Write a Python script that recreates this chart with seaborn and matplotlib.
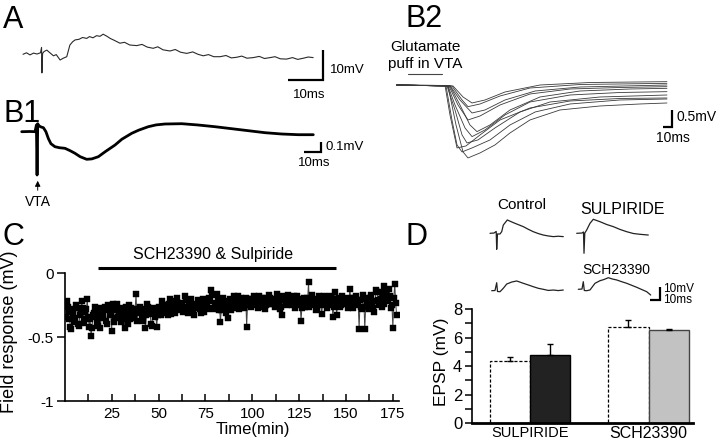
import numpy as np
import pandas as pd
import matplotlib
matplotlib.use("Agg")
import matplotlib.pyplot as plt
from matplotlib.container import BarContainer
import seaborn as sns

# ---------------- data ----------------
# A: single EPSP trace (ms, mV)
A_t = [0, 1, 2, 3, 4, 5, 5.3, 5.4, 5.6, 6, 6.8, 7.5, 8.7, 9.5, 10.6, 11.5, 12.5, 13.4, 14.2, 14.9,
       16, 17, 18.2, 19, 20, 21, 22, 22.9, 24, 24.9, 26, 27.7, 29, 30.5, 32.5, 34, 35.5, 37.2, 38.5, 40,
       42, 43.5, 45, 46.8, 48.5, 50, 51.5, 53, 54.5, 56.3, 58, 59.5, 61, 62.5, 64, 65.8, 67.5, 69, 70.6,
       72, 73.5, 75.3, 77, 78.5, 80.1, 81.5, 82.9]
A_v = [-0.1, 0.4, -0.3, 0.3, 0, 0.4, 2.2, -6.3, 0.2, 0.8, 1.3, 0.6, -0.6, -0.2, -2.0, -1.4, -0.9, 3.0, 4.1, 4.7,
       4.9, 5.5, 5.2, 5.8, 5.4, 6.1, 5.9, 6.6, 5.9, 5.2, 4.6, 3.6, 3.9, 3.0, 2.8, 3.2, 2.3, 1.9, 2.4, 1.4,
       1.0, 1.5, 0.6, 0.2, 0.7, -0.1, -0.6, -0.2, -0.9, -0.9, -0.5, -1.3, -1.1, -0.7, -1.4, -1.2, -0.8, -1.5, -1.2,
       -0.9, -1.6, -1.7, -1.2, -1.8, -1.4, -1.0, -1.2]

# B1: field response to VTA stimulation (ms, mV)
B1_t = [0, 5, 8, 8.8, 9.2, 9.6, 10.2, 11.6, 13, 14.5, 16, 17.5, 19.9, 22.5, 25.9, 29, 31.9, 35, 38.9, 42,
        45.9, 50, 55.9, 60, 65.9, 70, 75.8, 80.5, 85.8, 95.8, 105.7, 115.7, 125.7, 135.7, 145.7, 155.7, 165.6, 174.6]
B1_v = [0, 0.002, 0, 0.067, -0.433, 0.08, 0.06, 0.047, 0.04, 0.0, -0.07, -0.12, -0.15, -0.16, -0.166, -0.19,
        -0.216, -0.25, -0.276, -0.272, -0.25, -0.2, -0.133, -0.075, -0.016, 0.015, 0.05, 0.068, 0.077, 0.08,
        0.067, 0.05, 0.03, 0.01, -0.01, -0.023, -0.03, -0.03]

# B2: responses to glutamate puffs (ms, mV), one list per sweep
B2_t = [
    [0, 57, 65.9, 73.7, 79.2, 92.6, 109.2, 125.9, 148.1, 181.4, 225.9, 270.3, 300.3],
    [0, 54.8, 61.4, 67, 72.6, 83.7, 103.7, 125.9, 153.9, 192.6, 248.1, 300.3],
    [0, 53.7, 59.2, 67, 77, 92.6, 114.8, 148.1, 192.6, 248.1, 300.3],
    [0, 55.9, 64.8, 72.6, 78.1, 90.3, 109.2, 137, 170.3, 225.9, 300.3],
    [0, 57, 64.8, 75.9, 83.7, 98.1, 120.3, 148.1, 192.6, 248.1, 300.3],
    [0, 59.2, 70.3, 81.4, 89.2, 103.7, 125.9, 159.2, 203.7, 259.2, 300.3],
    [0, 58.1, 68.1, 79.2, 92.6, 114.8, 148.1, 192.6, 248.1, 300.3],
    [0, 59.2, 70.3, 83.7, 98.1, 120.3, 153.9, 203.7, 300.3],
    [0, 61.4, 72.6, 79.2, 92.6, 114.8, 148.1, 203.7, 300.3],
    [0, 62.6, 73.7, 83.7, 98.1, 120.3, 159.2, 214.8, 300.3],
]
B2_v = [
    [0, -0.03, -1.2, -2.01, -2.19, -2.04, -1.8, -1.44, -1.05, -0.75, -0.63, -0.57, -0.54],
    [0, -0.03, -1.05, -1.8, -2.01, -1.89, -1.65, -1.2, -0.81, -0.57, -0.45, -0.42],
    [0, -0.015, -0.9, -1.89, -1.83, -1.5, -1.05, -0.69, -0.48, -0.405, -0.39],
    [0, -0.03, -0.75, -1.5, -1.74, -1.65, -1.29, -0.81, -0.51, -0.36, -0.3],
    [0, -0.03, -0.6, -1.29, -1.55, -1.35, -0.9, -0.51, -0.3, -0.225, -0.2],
    [0, -0.03, -0.6, -1.2, -1.4, -1.2, -0.75, -0.36, -0.18, -0.12, -0.1],
    [0, -0.03, -0.6, -1.05, -0.93, -0.6, -0.27, -0.12, -0.075, -0.05],
    [0, -0.015, -0.45, -0.84, -0.75, -0.45, -0.18, -0.06, 0],
    [0, -0.03, -0.45, -0.65, -0.57, -0.33, -0.09, 0.015, 0.05],
    [0, -0.03, -0.36, -0.54, -0.45, -0.21, 0, 0.075, 0.1],
]
puff_window = [12.6, 50.3]   # ms

# C: field response over time (mV); samples on the whole minute ...
C_resp = [
    -0.22, -0.30, -0.42, -0.28, -0.38, -0.25, -0.40, -0.33, -0.22, -0.36,
    -0.30, -0.20, -0.42, -0.49, -0.33, -0.26, -0.38, -0.30, -0.43, -0.35,
    -0.28, -0.37, -0.25, -0.33, -0.45, -0.27, -0.35, -0.24, -0.30, -0.38,
    -0.27, -0.43, -0.31, -0.25, -0.36, -0.29, -0.33, -0.16, -0.30, -0.26,
    -0.35, -0.28, -0.43, -0.24, -0.32, -0.40, -0.27, -0.34, -0.42, -0.26,
    -0.30, -0.22, -0.29, -0.25, -0.33, -0.20, -0.28, -0.24, -0.31, -0.19,
    -0.27, -0.23, -0.30, -0.18, -0.26, -0.29, -0.22, -0.27, -0.33, -0.24,
    -0.21, -0.28, -0.25, -0.30, -0.22, -0.26, -0.19, -0.13, -0.27, -0.24,
    -0.16, -0.29, -0.38, -0.22, -0.25, -0.31, -0.35, -0.20, -0.24, -0.18,
    -0.26, -0.21, -0.28, -0.19, -0.24, -0.22, -0.42, -0.20, -0.25, -0.21,
    -0.18, -0.24, -0.27, -0.21, -0.19, -0.25, -0.28, -0.22, -0.17, -0.24,
    -0.20, -0.26, -0.16, -0.23, -0.28, -0.33, -0.19, -0.24, -0.17, -0.22,
    -0.25, -0.20, -0.27, -0.18, -0.23, -0.37, -0.21, -0.26, -0.19, -0.07,
    -0.22, -0.17, -0.25, -0.29, -0.20, -0.24, -0.32, -0.18, -0.23, -0.27,
    -0.21, -0.19, -0.34, -0.15, -0.33, -0.22, -0.26, -0.18, -0.24, -0.21,
    -0.27, -0.12, -0.23, -0.19, -0.25, -0.21, -0.44, -0.26, -0.17, -0.44,
    -0.22, -0.28, -0.19, -0.24, -0.30, -0.13, -0.21, -0.15, -0.26, -0.10,
    -0.17, -0.22, -0.12, -0.27, -0.43, -0.08, -0.33,
]
# ... and on the half minute
C_resp_half = [
    -0.34, -0.26, -0.36, -0.44, -0.31, -0.35, -0.27, -0.41, -0.30, -0.27,
    -0.39, -0.28, -0.34, -0.36, -0.43, -0.31, -0.34, -0.41, -0.27, -0.32,
    -0.33, -0.26, -0.40, -0.29, -0.31, -0.24, -0.38, -0.29, -0.34, -0.28,
    -0.32, -0.36, -0.26, -0.40, -0.30, -0.27, -0.35, -0.28, -0.37, -0.31,
    -0.29, -0.37, -0.30, -0.33, -0.26, -0.31, -0.41, -0.29, -0.31, -0.33,
    -0.27, -0.33, -0.25, -0.31, -0.27, -0.24, -0.32, -0.26, -0.22, -0.28,
    -0.23, -0.29, -0.25, -0.28, -0.21, -0.31, -0.25, -0.20, -0.28, -0.26,
    -0.27, -0.23, -0.31, -0.20, -0.27, -0.24, -0.28, -0.22, -0.17, -0.28,
    -0.23, -0.20, -0.26, -0.29, -0.19, -0.27, -0.22, -0.26, -0.29, -0.21,
    -0.22, -0.27, -0.18, -0.25, -0.21, -0.27, -0.19, -0.24, -0.20, -0.26,
    -0.23, -0.20, -0.25, -0.18, -0.26, -0.22, -0.19, -0.25, -0.21, -0.19,
    -0.24, -0.21, -0.25, -0.19, -0.22, -0.26, -0.18, -0.21, -0.25, -0.19,
    -0.21, -0.24, -0.18, -0.25, -0.20, -0.23, -0.27, -0.19, -0.23, -0.21,
    -0.26, -0.19, -0.23, -0.21, -0.27, -0.18, -0.22, -0.25, -0.20, -0.22,
    -0.25, -0.18, -0.23, -0.26, -0.20, -0.24, -0.19, -0.25, -0.21, -0.19,
    -0.23, -0.25, -0.19, -0.27, -0.22, -0.18, -0.24, -0.21, -0.28, -0.20,
    -0.26, -0.19, -0.24, -0.17, -0.27, -0.22, -0.15, -0.25, -0.20, -0.18,
    -0.24, -0.14, -0.21, -0.18, -0.25, -0.19, -0.23,
]
C_time = np.arange(1, len(C_resp) + 1)
C_time_half = C_time - 0.5
drug_period = [17.7, 144.6]   # min
C_xticks = [25, 50, 75, 100, 125, 150, 175]
C_yticks = [-1, -0.5, 0]
C_ylabels = ["-1", "-0.5", "0"]

# D: example EPSPs (ms, mV)
D1_t = [0, 4, 6.2, 6.7, 7.5, 10, 11.7, 13.3, 17.3, 23.3, 28.3, 33.3, 38.3, 43.3, 48.3, 53.3, 58.3, 63.3, 68.3, 73.3]
D1_v = [0, 0.2, 1.4, -12, -0.5, -0.5, 1.2, 6.2, 10, 8, 6.5, 5, 3, 1.2, -0.2, -1.3, -2.0, -2.5, -2.2, -2.5]
D2_t = [0, 5.3, 6.8, 7.3, 8.1, 10, 13.3, 16.6, 23.3, 30, 36.6, 43.3, 50, 56.6, 63.3, 71.6]
D2_v = [0, 0.2, 1, -15, 0.2, 2.5, 7.5, 10.5, 8.7, 6.6, 5, 2.9, 1.2, -0.15, -0.75, -1.3]
D3_t = [0, 3.3, 5, 5.8, 8.3, 11.6, 15, 20, 25, 31.6, 36.6, 41.6, 46.6, 51.6, 56.6, 61.6, 66.6, 71.6]
D3_v = [0, 0.15, 6, -0.6, -0.75, 1.8, 5, 6.5, 7.3, 5.55, 4.3, 3, 1.8, 1.05, 0.2, 0.5, 0.1, 0.5]
D4_t = [0, 3.7, 5, 6, 8.4, 11.7, 16.7, 21.7, 25.7, 30, 34.2, 38.4, 43.4, 48.4, 53.4, 58.4, 63.4, 68.4, 72.4]
D4_v = [0, 0.2, 5.7, -0.9, -1.05, -0.5, 4.5, 6.45, 7.35, 8.7, 7.7, 7, 5.7, 4.5, 3, 1.5, -0.15, -1.8, -4.3]

# D: bar chart
groups = ["SULPIRIDE", "SCH23390"]
conditions = ["Control", "Drug"]
control_epsp = [4.35, 6.76]
control_sem = [0.30, 0.44]
drug_epsp = [4.77, 6.53]
drug_sem = [0.78, 0.09]
D_yticks = [0, 2, 4, 6, 8]

# ---------------- figure ----------------
sns.set_theme(style="ticks")
plt.rcParams["font.family"] = ["Liberation Sans", "DejaVu Sans"]
plt.rcParams["axes.unicode_minus"] = False

W, H = 720, 444
fig = plt.figure(figsize=(7.2, 4.44), dpi=100)
fig.patch.set_facecolor("white")


def rect(x0, y0, x1, y1):
    return [x0 / W, 1 - y1 / H, (x1 - x0) / W, (y1 - y0) / H]


def ftext(x, y, s, **kw):
    kw.setdefault("ha", "center")
    kw.setdefault("va", "center")
    kw.setdefault("color", "black")
    return fig.text(x / W, 1 - y / H, s, **kw)


def trace_axes(x0, y0, x1, y1, ox, oy, sx, sy):
    ax = fig.add_axes(rect(x0, y0, x1, y1))
    ax.set_xlim((x0 - ox) / sx, (x1 - ox) / sx)
    ax.set_ylim((oy - y1) / sy, (oy - y0) / sy)
    ax.axis("off")
    return ax


def scalebar(ax, x, y, dx, dy):
    ax.plot([x - dx, x, x], [y, y, y + dy], color="black", lw=1.6,
            solid_joinstyle="miter", solid_capstyle="butt", clip_on=False)


LET = 22
# ----- A -----
axA = trace_axes(15, 25, 360, 100, 23, 54, 3.5, 3.0)
sns.lineplot(x=A_t, y=A_v, sort=False, estimator=None, color="#2a2a2a", lw=0.8, ax=axA)
scalebar(axA, 85.7, -8.67, 10, 10)
ftext(3, 28, "A", ha="left", va="baseline", fontsize=LET)
ftext(330, 70, "10mV", ha="left", fontsize=9.5)
ftext(309, 95, "10ms", fontsize=9.5)

# ----- B1 -----
axB1 = trace_axes(15, 100, 345, 185, 21.7, 131.7, 1.67, 100)
sns.lineplot(x=B1_t, y=B1_v, sort=False, estimator=None, color="black", lw=2.0, ax=axB1)
scalebar(axB1, 179.2, -0.2, 10, 0.1)
ftext(3, 122, "B1", ha="left", va="baseline", fontsize=LET)
ftext(325, 147, "0.1mV", ha="left", fontsize=9.5)
ftext(314, 163, "10ms", fontsize=9.5)
fig.add_artist(matplotlib.patches.FancyArrowPatch(
    (37.7 / W, 1 - 193 / H), (37.7 / W, 1 - 178 / H), transform=fig.transFigure,
    arrowstyle="-|>", mutation_scale=8, lw=0.7, color="black"))
ftext(37.7, 202, "VTA", fontsize=10)

# ----- B2 -----
axB2 = trace_axes(385, 30, 700, 175, 396.7, 85, 0.9, 33.3)
b2 = pd.DataFrame({
    "t": [v for tr in B2_t for v in tr],
    "v": [v for tr in B2_v for v in tr],
    "sweep": [i for i, tr in enumerate(B2_t) for _ in tr],
})
sns.lineplot(data=b2, x="t", y="v", units="sweep", estimator=None, sort=False,
             color="#3a3a3a", lw=0.6, ax=axB2)
axB2.plot(puff_window, [0.33, 0.33], color="#444444", lw=0.8)
scalebar(axB2, 305.6, -1.25, 10, 0.5)
ftext(405, 27, "B2", ha="left", va="baseline", fontsize=LET)
ftext(425, 46.7, "Glutamate", fontsize=11)
ftext(425.5, 64, "puff in VTA", fontsize=11)
ftext(676.7, 116.7, "0.5mV", ha="left", fontsize=10)
ftext(672.5, 138, "10ms", fontsize=10)

# ----- C -----
axC = fig.add_axes(rect(64.8, 273.3, 398.5, 401))
c_df = pd.DataFrame({"time": np.concatenate([C_time, C_time_half]),
                     "resp": C_resp + C_resp_half}).sort_values("time")
sns.lineplot(data=c_df, x="time", y="resp", color="#444444", lw=0.7, ax=axC)
sns.scatterplot(data=c_df, x="time", y="resp", marker="s", s=18, color="black",
                edgecolor="black", linewidth=0.3, ax=axC, zorder=3)
axC.plot(drug_period, [0.04, 0.04], color="black", lw=2.2, clip_on=False,
         solid_capstyle="butt")
axC.set_xlim(0, 178)
axC.set_ylim(-1, 0)
axC.set_xticks(C_xticks)
axC.set_xticks([t - 12.5 for t in C_xticks], minor=True)
axC.set_yticks(C_yticks)
axC.set_yticklabels(C_ylabels)
axC.set_xlabel("")
axC.set_ylabel("")
axC.tick_params(axis="x", which="both", direction="in", length=5, width=1.1,
                labelsize=11, pad=4, colors="black")
axC.tick_params(axis="y", which="both", direction="out", length=6, width=1.1,
                labelsize=11, pad=2, colors="black")
for s in ["top", "right"]:
    axC.spines[s].set_visible(False)
for s in ["left", "bottom"]:
    axC.spines[s].set_color("black")
    axC.spines[s].set_linewidth(1.2)
ftext(2, 245, "C", ha="left", va="baseline", fontsize=LET)
ftext(213.5, 255, "SCH23390 & Sulpiride", fontsize=11.5)
ftext(253, 429, "Time(min)", fontsize=12)
ftext(10, 332, "Field response (mV)", rotation=90, fontsize=13)

# ----- D traces -----
axDt = trace_axes(480, 195, 700, 305, 480, 305, 1.0, 1.333)
for tt, vv, (px, py) in [(D1_t, D1_v, (490, 233.3)), (D2_t, D2_v, (576.7, 233.3)),
                         (D3_t, D3_v, (491.7, 290.7)), (D4_t, D4_v, (578.3, 289.3))]:
    sns.lineplot(x=np.array(tt) + (px - 480), y=np.array(vv) + (305 - py) / 1.333,
                 sort=False, estimator=None, color="#222222", lw=0.9, ax=axDt)
scalebar(axDt, 180, 3.75, 10, 10)
ftext(405, 245, "D", ha="left", va="baseline", fontsize=LET)
ftext(522, 205, "Control", fontsize=11)
ftext(623, 209, "SULPIRIDE", fontsize=11.5)
ftext(616, 270, "SCH23390", fontsize=10)
ftext(663, 289, "10mV", ha="left", fontsize=8.5)
ftext(663, 299.5, "10ms", ha="left", fontsize=8.5)

# ----- D bars -----
axD = fig.add_axes(rect(472, 309, 693, 423))
bars = pd.DataFrame({
    "group": groups * 2,
    "condition": [conditions[0]] * 2 + [conditions[1]] * 2,
    "epsp": control_epsp + drug_epsp,
})
sns.barplot(data=bars, x="group", y="epsp", hue="condition", order=groups,
            hue_order=conditions, palette=["white", "#222222"], width=0.68,
            errorbar=None, edgecolor="black", linewidth=1.0, legend=False, ax=axD)
sems = [control_sem, drug_sem]
bar_conts = [c for c in axD.containers if isinstance(c, BarContainer)]
for ci, cont in enumerate(bar_conts):
    for bi, bar in enumerate(list(cont)):
        if ci == 0:
            bar.set_linestyle((0, (2.5, 1.5)))
            bar.set_linewidth(0.9)
        elif bi == 1:
            bar.set_facecolor("#c2c2c2")
            bar.set_edgecolor("#444444")
        x = bar.get_x() + bar.get_width() / 2
        axD.errorbar(x, bar.get_height(), yerr=[[0], [sems[ci][bi]]], fmt="none",
                     ecolor="black", elinewidth=1.0, capsize=2, capthick=1.0)
axD.set_xlim(-0.49, 1.375)
axD.set_ylim(0, 8)
axD.set_yticks(D_yticks)
axD.set_yticks([1, 3, 5, 7], minor=True)
axD.set_xlabel("")
axD.set_ylabel("")
axD.tick_params(axis="y", which="both", direction="out", length=5, width=1.1,
                labelsize=12, pad=2, colors="black")
axD.tick_params(axis="x", length=0, pad=2.5, colors="black")
for lbl, fs in zip(axD.get_xticklabels(), [10.5, 11.5]):
    lbl.set_fontsize(fs)
for s in ["top", "right"]:
    axD.spines[s].set_visible(False)
axD.spines["left"].set_color("black")
axD.spines["left"].set_linewidth(1.2)
axD.spines["bottom"].set_color("black")
axD.spines["bottom"].set_linewidth(2.0)
ftext(441, 362, "EPSP (mV)", rotation=90, fontsize=12.5)

fig.savefig("out.png", dpi=100, facecolor="white")
